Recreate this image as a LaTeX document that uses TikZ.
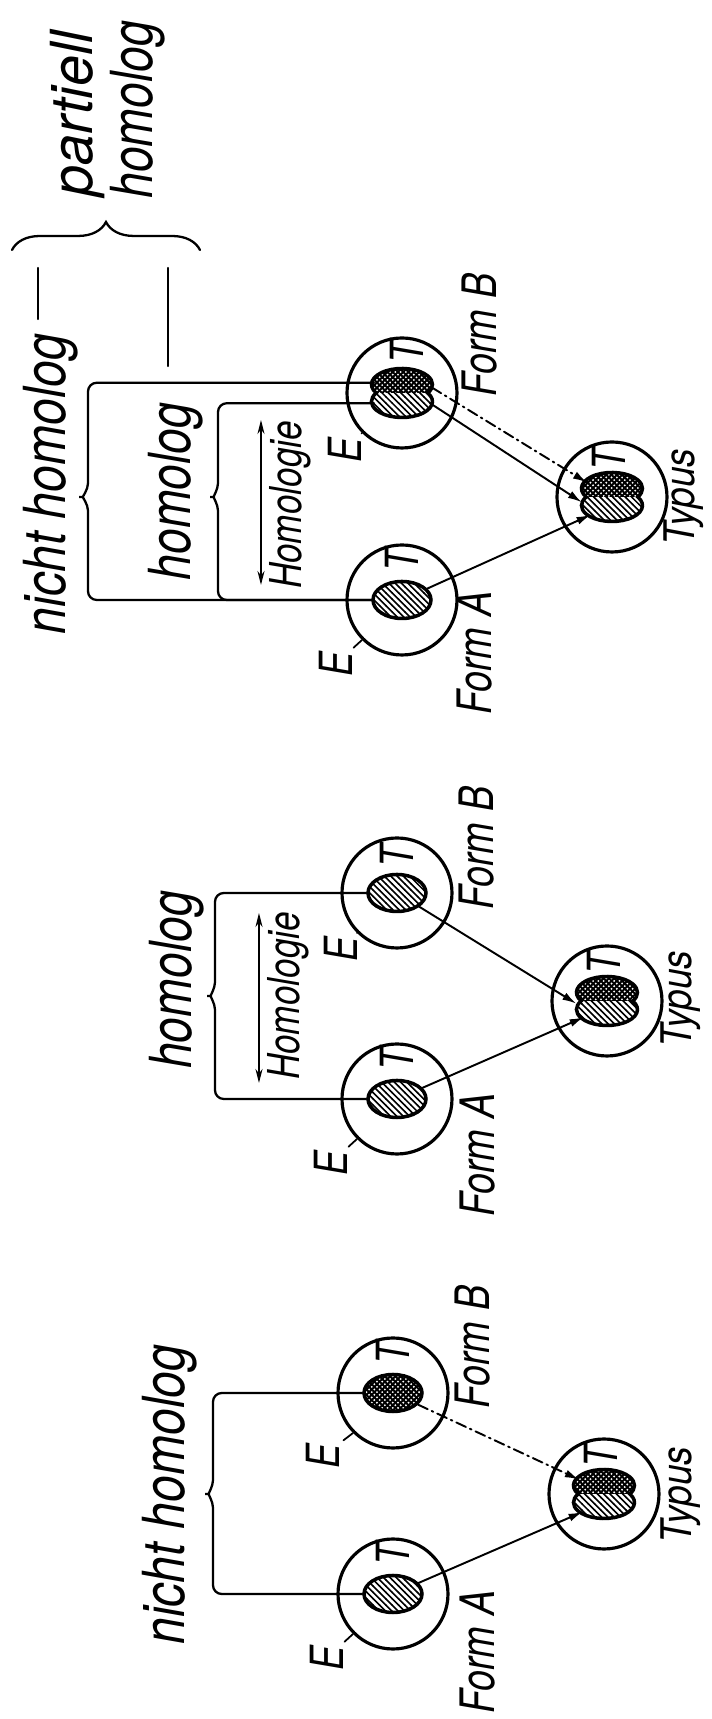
\documentclass[tikz,border=0pt]{standalone}
\usepackage{fontspec}
\setmainfont{TeX Gyre Heros}[FakeStretch=0.8]
\usetikzlibrary{arrows.meta,shapes.geometric,calc,patterns,decorations.pathreplacing}

\pgfdeclarepatternformonly{schraffur}{\pgfqpoint{-1pt}{-1pt}}{\pgfqpoint{4.6pt}{4.6pt}}{\pgfqpoint{3.6pt}{3.6pt}}{%
  \pgfsetlinewidth{0.9pt}%
  \pgfpathmoveto{\pgfqpoint{-0.1pt}{3.7pt}}%
  \pgfpathlineto{\pgfqpoint{3.7pt}{-0.1pt}}%
  \pgfusepath{stroke}}
\pgfdeclarepatternformonly{raster}{\pgfqpoint{-1pt}{-1pt}}{\pgfqpoint{4pt}{4pt}}{\pgfqpoint{3pt}{3pt}}{%
  \pgfsetlinewidth{1.1pt}%
  \pgfpathmoveto{\pgfqpoint{0pt}{0pt}}\pgfpathlineto{\pgfqpoint{3pt}{3pt}}%
  \pgfpathmoveto{\pgfqpoint{0pt}{3pt}}\pgfpathlineto{\pgfqpoint{3pt}{0pt}}%
  \pgfusepath{stroke}}

\tikzset{
  kreis/.style={circle,draw,line width=1.8pt,minimum size=2.2cm,inner sep=0pt},
  kern/.style={ellipse,draw,line width=2pt,minimum width=0.74cm,minimum height=1.16cm,inner sep=0pt},
  kern2/.style={ellipse,minimum width=0.98cm,minimum height=1.22cm,inner sep=0pt},
  kernrand/.style={line width=2pt},
  lobes/.style={insert path={++(0,0.517) arc[start angle=122.1,end angle=-122.1,x radius=0.32,y radius=0.61]
    arc[start angle=-57.9,end angle=-302.1,x radius=0.32,y radius=0.61] -- cycle}},
  klammer/.style={line width=1.3pt,rounded corners=5pt},
  pfeil/.style={line width=1.1pt,-{Latex[length=8pt,width=4.5pt]}},
  strichpunkt/.style={dash pattern=on 6pt off 2.5pt on 1pt off 2.5pt},
  doppelpfeil/.style={line width=0.8pt,{Stealth[length=8pt,width=4pt]}-{Stealth[length=8pt,width=4pt]}},
  duenn/.style={line width=1pt,shorten >=0.12cm},
  gross/.style={font=\itshape\fontsize{33}{36}\selectfont,inner sep=0pt},
  mittel/.style={font=\itshape\fontsize{27}{30}\selectfont,inner sep=0pt},
  typ/.style={font=\itshape\fontsize{24}{26}\selectfont,inner sep=0pt,xscale=1.1},
  hom/.style={font=\itshape\fontsize{25}{28}\selectfont,inner sep=0pt},
  klein/.style={font=\itshape\fontsize{26}{28}\selectfont,inner sep=0pt}
}

% Typus-Kern aus zwei Haelften: links schraffiert, rechts gerastert
\newcommand{\doppelkern}[1]{%
  \begin{scope}
    \clip (#1.center) ++(-1,-1) rectangle ++(1,2);
    \fill[pattern=schraffur] (#1.center) [lobes];
  \end{scope}
  \begin{scope}
    \clip (#1.center) ++(0,-1) rectangle ++(1,2);
    \fill[pattern=raster] (#1.center) [lobes];
  \end{scope}
  \draw[kernrand] (#1.center) [lobes];}

\begin{document}
\begin{tikzpicture}[rotate=90,transform shape,line cap=round]
  \useasboundingbox (0,0) rectangle (34.38,14.24);

  % nicht homolog
  \node[kreis] (A1) at (2.5,6.38) {};
  \node[kreis] (B1) at (6.52,6.38) {};
  \node[kreis] (Ty1) at (4.5,2.16) {};
  \node[kern,pattern=schraffur] (a1) at (A1) {};
  \node[kern,pattern=raster] (b1) at (B1) {};
  \node[kern2] (ty1) at (Ty1) {};
  \doppelkern{ty1}
  \coordinate (k1) at (4.5,10.24);
  \draw[klammer] (a1.north) |- ($(k1)+(-0.45,-0.26)$) .. controls +(0.3,0) and +(0,-0.16) .. (k1)
    .. controls +(0,-0.16) and +(-0.3,0) .. ($(k1)+(0.45,-0.26)$) -| (b1.north);
  \draw[pfeil] (a1) -- (ty1.130);
  \draw[pfeil,strichpunkt] (b1) -- (ty1.60);
  \node[gross,xscale=1.04,anchor=base] (nh1) at (4.49,10.54) {nicht homolog};
  \node[klein] (ta1) at ($(A1)+(0.8,0)$) {T};
  \node[klein] (tb1) at ($(B1)+(0.8,0)$) {T};
  \node[klein] (tt1) at ($(Ty1)+(0.76,0.06)$) {T};
  \node[klein] (ea1) at ($(A1)+(134:1.85)$) {E};
  \node[klein] (eb1) at ($(B1)+(132:1.9)$) {E};
  \draw[duenn] (A1.135) -- (ea1);
  \draw[duenn] (B1.135) -- (eb1);
  \node[mittel,anchor=base] (fa1) at (1.34,4.34) {Form A};
  \node[mittel,anchor=base] (fb1) at (7.44,4.44) {Form B};
  \node[typ,anchor=base] (fy1) at (4.48,0.42) {Typus};

  % homolog
  \node[kreis] (A2) at (12.4,6.3) {};
  \node[kreis] (B2) at (16.52,6.3) {};
  \node[kreis] (Ty2) at (14.36,2.1) {};
  \node[kern,pattern=schraffur] (a2) at (A2) {};
  \node[kern,pattern=schraffur] (b2) at (B2) {};
  \node[kern2] (ty2) at (Ty2) {};
  \doppelkern{ty2}
  \coordinate (k2) at (14.46,10.2);
  \draw[klammer] (a2.north) |- ($(k2)+(-0.45,-0.26)$) .. controls +(0.3,0) and +(0,-0.16) .. (k2)
    .. controls +(0,-0.16) and +(-0.3,0) .. ($(k2)+(0.45,-0.26)$) -| (b2.north);
  \draw[pfeil] (a2) -- (ty2.125);
  \draw[pfeil] (b2) -- (ty2.95);
  \coordinate (h2l) at (12.72,9.06);
  \coordinate (h2r) at (16.12,9.06);
  \draw[doppelpfeil] (h2l) -- (h2r);
  \node[hom,anchor=base] (hg2) at (14.46,8.24) {Homologie};
  \node[gross,anchor=base] (ho2) at (14.78,10.4) {homolog};
  \node[klein] (ta2) at ($(A2)+(0.8,0)$) {T};
  \node[klein] (tb2) at ($(B2)+(0.74,0)$) {T};
  \node[klein] (tt2) at ($(Ty2)+(0.76,0.06)$) {T};
  \node[klein] (ea2) at ($(A2)+(134:1.85)$) {E};
  \node[klein] (eb2) at ($(B2)+(135:1.6)$) {E};
  \draw[duenn] (A2.135) -- (ea2);
  \draw[duenn] (B2.135) -- (eb2);
  \node[mittel,anchor=base] (fa2) at (11.28,4.34) {Form A};
  \node[mittel,anchor=base] (fb2) at (17.42,4.36) {Form B};
  \node[typ,anchor=base] (fy2) at (14.4,0.42) {Typus};

  % partiell homolog
  \node[kreis] (A3) at (22.38,6.2) {};
  \node[kreis] (B3) at (26.52,6.2) {};
  \node[kreis] (Ty3) at (24.44,2.0) {};
  \node[kern,pattern=schraffur] (a3) at (A3) {};
  \node[kern2] (b3) at (B3) {};
  \doppelkern{b3}
  \node[kern2] (ty3) at (Ty3) {};
  \doppelkern{ty3}
  \coordinate (k3) at (24.44,12.76);
  \coordinate (k4) at (24.44,10.14);
  \draw[klammer] (a3.north) |- ($(k3)+(-0.45,-0.28)$) .. controls +(0.3,0) and +(0,-0.17) .. (k3)
    .. controls +(0,-0.17) and +(-0.3,0) .. ($(k3)+(0.45,-0.28)$) -| (b3.70);
  \draw[klammer] (a3.north) |- ($(k4)+(-0.45,-0.26)$) .. controls +(0.3,0) and +(0,-0.16) .. (k4)
    .. controls +(0,-0.16) and +(-0.3,0) .. ($(k4)+(0.45,-0.26)$) -| (b3.110);
  \draw[pfeil] (a3) -- (ty3.130);
  \draw[pfeil] (b3.-110) -- (ty3.100);
  \draw[pfeil,strichpunkt] (b3.-80) -- (ty3.60);
  \coordinate (h3l) at (22.68,9.02);
  \coordinate (h3r) at (25.98,9.02);
  \draw[doppelpfeil] (h3l) -- (h3r);
  \node[hom,anchor=base] (hg3) at (24.28,8.2) {Homologie};
  \node[gross,xscale=1.04,anchor=base] (nh3) at (24.7,12.92) {nicht homolog};
  \node[gross,anchor=base] (ho3) at (24.55,10.42) {homolog};
  \node[klein] (ta3) at ($(A3)+(0.8,0)$) {T};
  \node[klein] (tb3) at ($(B3)+(0.82,-0.1)$) {T};
  \node[klein] (tt3) at ($(Ty3)+(0.76,0.06)$) {T};
  \node[klein] (ea3) at ($(A3)+(134:1.85)$) {E};
  \node[klein] (eb3) at ($(B3)+(135:1.62)$) {E};
  \draw[duenn] (A3.135) -- (ea3);
  \draw[duenn] (B3.135) -- (eb3);
  \node[mittel,anchor=base] (fa3) at (21.32,4.4) {Form A};
  \node[mittel,anchor=base] (fb3) at (27.68,4.3) {Form B};
  \node[typ,anchor=base] (fy3) at (24.44,0.36) {Typus};

  % Striche und Klammer rechts
  \coordinate (s1) at (28.0,13.48);
  \coordinate (s2) at (29.02,13.48);
  \coordinate (s3) at (27.06,10.88);
  \coordinate (s4) at (29.02,10.88);
  \draw[klammer] (s1) -- (s2);
  \draw[klammer] (s3) -- (s4);
  \coordinate (g1) at (29.38,14.0);
  \coordinate (g2) at (29.38,10.24);
  \draw[line width=1.3pt,decorate,decoration={brace,amplitude=0.56cm}] (g1) -- (g2);
  \node[gross,xscale=1.2,anchor=base west] (pa) at (30.45,12.38) {partiell};
  \node[gross,anchor=base west] (ph) at (30.4,11.18) {homolog};
\end{tikzpicture}
\end{document}
